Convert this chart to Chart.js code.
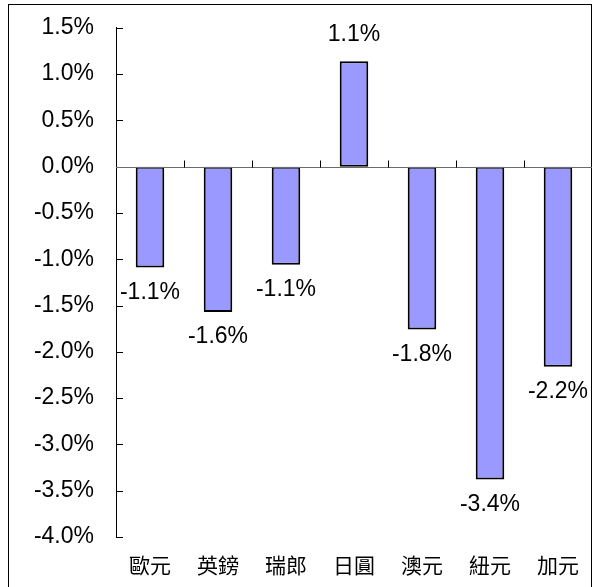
<!DOCTYPE html>
<html>
<head>
<meta charset="utf-8">
<script src="https://cdn.jsdelivr.net/npm/chart.js@4"></script>
<style>
  html, body { margin: 0; padding: 0; background: #fff; }
  #wrap { width: 601px; height: 587px; }
</style>
</head>
<body>
<div id="wrap"><canvas id="myChart" width="601" height="587"></canvas></div>
<script>
  // currencies and their change (%)
  var categories = ['歐元', '英鎊', '瑞郎', '日圓', '澳元', '紐元', '加元'];
  var changes = [-1.09, -1.57, -1.06, 1.14, -1.76, -3.38, -2.16];
  var yMin = -4.0, yMax = 1.5, yStep = 0.5;

  const latin = "'Liberation Sans', Arial, sans-serif";
  const cjk = "'Noto Sans CJK TC', 'Noto Sans CJK SC', sans-serif";

  // outer frame, zero line, inner ticks and value labels
  const extras = {
      id: 'extras',
      beforeDraw(chart) {
          const ctx = chart.ctx;
          ctx.save();
          ctx.fillStyle = '#fff';
          ctx.fillRect(0, 0, chart.width, chart.height);
          ctx.strokeStyle = '#000';
          ctx.lineWidth = 1;
          ctx.strokeRect(8.5, 4.5, 583, 620);
          ctx.restore();
      },
      afterDatasetsDraw(chart) {
          const ctx = chart.ctx;
          const x = chart.scales.x, y = chart.scales.y;
          const area = chart.chartArea;
          ctx.save();
          ctx.lineWidth = 1;
          ctx.strokeStyle = '#000';
          // y ticks pointing into the plot
          y.ticks.forEach(function (t) {
              const py = Math.round(y.getPixelForValue(t.value)) + 0.5;
              ctx.beginPath();
              ctx.moveTo(area.left, py);
              ctx.lineTo(area.left + 7, py);
              ctx.stroke();
          });
          // zero line and category separators
          const y0 = Math.round(y.getPixelForValue(0)) + 0.5;
          ctx.strokeStyle = '#6b6b6b';
          ctx.beginPath();
          ctx.moveTo(area.left, y0);
          ctx.lineTo(area.right, y0);
          ctx.stroke();
          ctx.strokeStyle = '#000';
          const w = (x.getPixelForValue(1) - x.getPixelForValue(0));
          for (let i = 1; i < categories.length; i++) {
              const px = Math.round(x.getPixelForValue(i) - w / 2) + 0.5;
              ctx.beginPath();
              ctx.moveTo(px, y0);
              ctx.lineTo(px, y0 - 7);
              ctx.stroke();
          }
          // value labels
          ctx.fillStyle = '#000';
          ctx.font = '23px ' + latin;
          ctx.textAlign = 'center';
          ctx.textBaseline = 'middle';
          const meta = chart.getDatasetMeta(0);
          meta.data.forEach(function (bar, i) {
              const v = changes[i];
              const ty = v < 0 ? bar.y + 25 : bar.y - 26;
              ctx.fillText(v.toFixed(1) + '%', bar.x, ty);
          });
          ctx.restore();
      }
  };

  new Chart('myChart', {
      type: 'bar',
      data: {
          labels: categories,
          datasets: [{
              data: changes,
              backgroundColor: '#9999ff',
              borderColor: '#000',
              borderWidth: 2,
              borderSkipped: false,
              categoryPercentage: 1,
              barPercentage: 0.42
          }]
      },
      options: {
          responsive: false,
          animation: false,
          events: [],
          layout: {
              padding: { left: 0, right: 9, top: 20, bottom: 0 }
          },
          plugins: {
              legend: { display: false },
              tooltip: { enabled: false }
          },
          scales: {
              x: {
                  grid: { display: false },
                  border: { display: false },
                  ticks: {
                      color: '#000',
                      padding: 7,
                      maxRotation: 0,
                      font: { family: cjk, size: 21 }
                  },
                  afterFit: function (scale) { scale.height = 50; }
              },
              y: {
                  min: yMin,
                  max: yMax,
                  grid: { display: false },
                  border: { display: true, color: '#000', width: 1 },
                  ticks: {
                      stepSize: yStep,
                      color: '#000',
                      padding: 14,
                      font: { family: latin, size: 23 },
                      callback: function (v) { return v.toFixed(1) + '%'; }
                  },
                  afterFit: function (scale) { scale.width = 116; }
              }
          }
      },
      plugins: [extras]
  });
</script>
</body>
</html>
